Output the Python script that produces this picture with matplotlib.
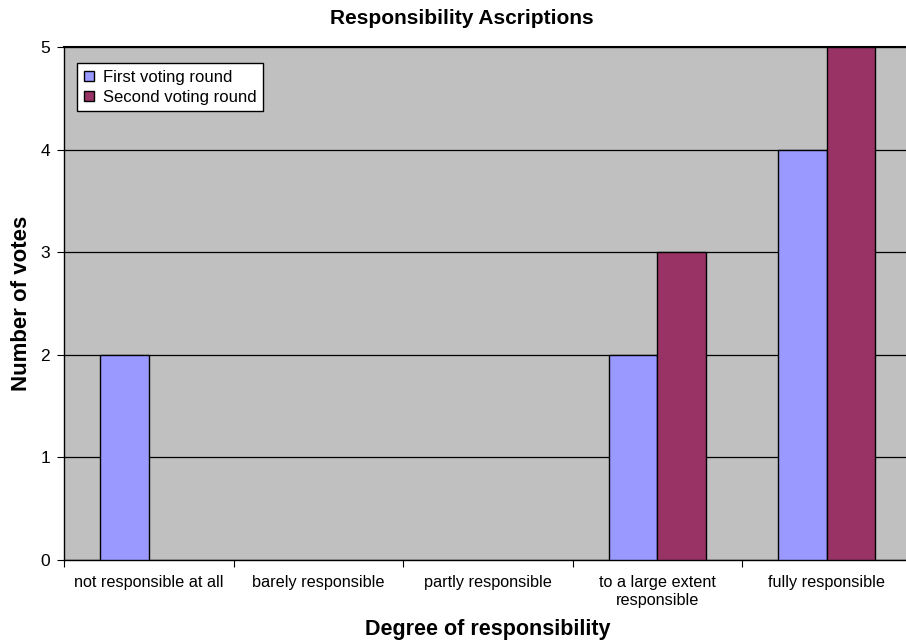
import matplotlib
matplotlib.use("Agg")
import matplotlib.pyplot as plt
import numpy as np

plt.rcParams['font.family'] = ['Liberation Sans', 'DejaVu Sans']

categories = ["not responsible at all", "barely responsible", "partly responsible",
              "to a large extent\nresponsible", "fully responsible"]
first_round = [2, 0, 0, 2, 4]
second_round = [0, 0, 0, 3, 5]
series_names = ["First voting round", "Second voting round"]

fig = plt.figure(figsize=(9.06, 6.42), dpi=100)
ax = fig.add_axes([64 / 906, 1 - 560 / 642, 847.5 / 906, 513 / 642])
ax.set_facecolor("#C0C0C0")

x = np.arange(len(categories))
w = 0.287
# zero counts are not drawn at all in the original
v1 = np.array(first_round, dtype=float)
v2 = np.array(second_round, dtype=float)
m1 = v1 > 0
m2 = v2 > 0
ax.bar(x[m1] - w / 2, v1[m1], w, color="#9999FF", edgecolor="black", linewidth=1,
       label=series_names[0], zorder=3)
ax.bar(x[m2] + w / 2, v2[m2], w, color="#993366", edgecolor="black", linewidth=1,
       label=series_names[1], zorder=3)

ax.set_xlim(-0.5, len(categories) - 0.5)
ax.set_ylim(0, 5)
ax.set_yticks(range(6))
ax.yaxis.grid(True, color="black", linewidth=0.9, zorder=1)
ax.set_axisbelow(True)

ax.set_xticks(np.arange(len(categories) + 1) - 0.5)
ax.set_xticklabels([])
ax.set_xticks(x, minor=True)
ax.set_xticklabels(categories, minor=True, fontsize=11.7)
ax.tick_params(axis="x", which="minor", length=0, pad=11)
ax.tick_params(axis="x", which="major", length=5, direction="out")
ax.tick_params(axis="y", length=5, direction="out", labelsize=12.5, pad=5)

for s in ax.spines.values():
    s.set_color("black")
ax.spines["left"].set_linewidth(1)
ax.spines["bottom"].set_linewidth(1)
ax.spines["top"].set_linewidth(1.5)
ax.spines["right"].set_visible(False)

fig.text(462 / 906, 1 - 19 / 642, "Responsibility Ascriptions", ha="center", va="center",
         fontsize=15, fontweight="bold")
ax.set_xlabel("Degree of responsibility", fontsize=15.5, fontweight="bold", labelpad=8)
ax.set_ylabel("Number of votes", fontsize=16, fontweight="bold", labelpad=6)

leg = ax.legend(loc="upper left", bbox_to_anchor=(13 / 847.5, 1 - 16 / 513), fontsize=12,
                frameon=True, fancybox=False, framealpha=1, edgecolor="black",
                handlelength=0.6, handleheight=0.6, handletextpad=0.55, borderpad=0.4,
                labelspacing=0.3, borderaxespad=0)
leg.get_frame().set_linewidth(1)

fig.savefig("out.png", dpi=100)
